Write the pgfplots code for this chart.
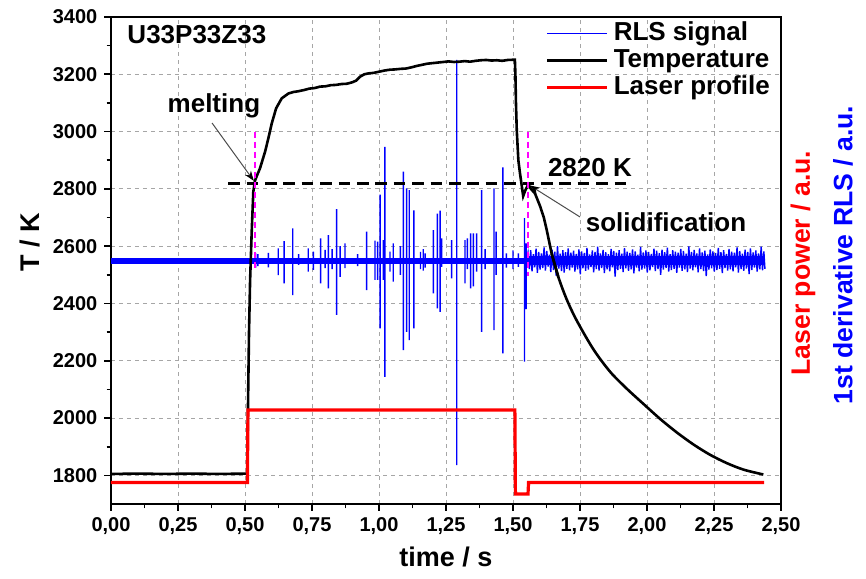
\documentclass[border=0pt]{standalone}
\usepackage{pgfplots}
\pgfplotsset{compat=1.18}
\usepackage{fontspec}
\setmainfont{Liberation Sans}
\usetikzlibrary{arrows.meta}
\definecolor{rlsblue}{RGB}{0,0,255}
\definecolor{lasred}{RGB}{255,0,0}
\definecolor{mag}{RGB}{255,0,255}
\begin{document}
\begin{tikzpicture}
\begin{axis}[
  name=ax, at={(0,0)}, anchor=south west,
  scale only axis, width=335pt, height=243.5pt,
  xmin=0, xmax=2.5, ymin=1700, ymax=3400,
  xtick={0,0.25,0.5,0.75,1,1.25,1.5,1.75,2,2.25,2.5},
  ytick={1800,2000,2200,2400,2600,2800,3000,3200,3400},
  minor x tick num=1, minor y tick num=1,
  tick align=outside, xtick pos=bottom, ytick pos=left,
  major tick length=3.3pt, minor tick length=2.2pt,
  every tick/.style={black, line width=0.8pt},
  axis line style={line width=1pt},
  grid=major,
  major grid style={black!35, dash pattern=on 2pt off 2pt, line width=0.4pt},
  /pgf/number format/assume math mode=true,
  x tick label style={/pgf/number format/.cd, fixed, fixed zerofill, precision=2, use comma},
  y tick label style={/pgf/number format/.cd, fixed, 1000 sep={}},
  tick label style={font=\bfseries\fontsize{10}{12}\selectfont},
  xlabel={time / s}, ylabel={T / K},
  label style={font=\bfseries\fontsize{13.5}{16}\selectfont},
  xlabel style={at={(axis description cs:0.5,-0.109)}, anchor=center},
  ylabel style={at={(axis description cs:-0.121,0.538)}, anchor=center, rotate=0},
  legend style={draw=none, fill=none, at={(rel axis cs:0.648,0.995)}, anchor=north west,
    font=\bfseries\fontsize{13}{14}\selectfont, inner sep=0pt, row sep=0pt, column sep=2pt,
    nodes={inner sep=0.5pt, text height=9.6pt, text depth=3pt}},
  legend cell align=left,
  legend image code/.code={\draw[#1] (0pt,0pt) -- (30pt,0pt);},
]
% dense noisy core of the RLS signal (not in legend)
\addplot[rlsblue, line width=2.8pt, forget plot] coordinates {(0,2549) (1.556,2549)};
\addplot[rlsblue, line width=4.6pt, forget plot] coordinates {(1.556,2549) (2.438,2549)};

% RLS signal spikes and noise
\addplot[rlsblue, line width=0.7pt] table {
x y
0.535 2549
0.540 2549
0.540 2575
0.540 2525
0.540 2549
0.548 2549
0.548 2572
0.548 2530
0.548 2549
0.587 2549
0.587 2577
0.587 2526
0.587 2549
0.624 2549
0.624 2592
0.624 2499
0.624 2549
0.646 2549
0.646 2618
0.646 2470
0.646 2549
0.678 2549
0.678 2662
0.678 2429
0.678 2549
0.700 2549
0.700 2572
0.700 2535
0.700 2549
0.736 2549
0.736 2592
0.736 2511
0.736 2549
0.755 2549
0.755 2581
0.755 2517
0.755 2549
0.782 2549
0.782 2627
0.782 2470
0.782 2549
0.799 2549
0.799 2587
0.799 2523
0.799 2549
0.811 2549
0.811 2639
0.811 2453
0.811 2549
0.825 2549
0.825 2590
0.825 2520
0.825 2549
0.842 2549
0.842 2729
0.842 2360
0.842 2549
0.855 2549
0.855 2600
0.855 2493
0.855 2549
0.873 2549
0.873 2610
0.873 2523
0.873 2549
0.920 2549
0.920 2572
0.920 2530
0.920 2549
0.954 2549
0.954 2651
0.954 2447
0.954 2549
0.985 2549
0.985 2619
0.985 2482
0.985 2549
0.995 2549
0.995 2616
0.995 2482
0.995 2549
1.004 2549
1.004 2780
1.004 2313
1.004 2549
1.016 2549
1.016 2621
1.016 2482
1.016 2549
1.022 2549
1.022 2947
1.022 2144
1.022 2549
1.041 2549
1.041 2581
1.041 2511
1.041 2549
1.053 2549
1.053 2610
1.053 2476
1.053 2549
1.080 2549
1.080 2600
1.080 2500
1.080 2549
1.091 2549
1.091 2860
1.091 2237
1.091 2549
1.103 2549
1.103 2802
1.103 2301
1.103 2549
1.113 2549
1.113 2796
1.113 2272
1.113 2549
1.130 2549
1.130 2725
1.130 2313
1.130 2549
1.155 2549
1.155 2580
1.155 2520
1.155 2549
1.165 2549
1.165 2590
1.165 2515
1.165 2549
1.172 2549
1.172 2575
1.172 2525
1.172 2549
1.203 2549
1.203 2656
1.203 2435
1.203 2549
1.218 2549
1.218 2714
1.218 2383
1.218 2549
1.228 2549
1.228 2724
1.228 2371
1.228 2549
1.234 2549
1.234 2627
1.234 2528
1.234 2549
1.271 2549
1.271 2621
1.271 2488
1.271 2549
1.290 2549
1.290 3250
1.290 1836
1.290 2549
1.321 2549
1.321 2621
1.321 2470
1.321 2549
1.330 2549
1.330 2627
1.330 2520
1.330 2549
1.342 2549
1.342 2645
1.342 2453
1.342 2549
1.352 2549
1.352 2645
1.352 2460
1.352 2549
1.364 2549
1.364 2645
1.364 2511
1.364 2549
1.383 2549
1.383 2796
1.383 2301
1.383 2549
1.396 2549
1.396 2590
1.396 2520
1.396 2549
1.429 2549
1.429 2802
1.429 2307
1.429 2549
1.437 2549
1.437 2651
1.437 2500
1.437 2549
1.462 2549
1.462 2875
1.462 2226
1.462 2549
1.475 2549
1.475 2575
1.475 2525
1.475 2549
1.500 2549
1.500 2585
1.500 2520
1.500 2549
1.520 2549
1.520 2575
1.520 2528
1.520 2549
1.543 2549
1.543 2698
1.543 2197
1.543 2549
1.549 2549
1.549 2610
1.549 2380
1.549 2549
1.556 2578
1.561 2520
1.566 2586
1.571 2512
1.576 2572
1.581 2526
1.586 2591
1.591 2507
1.596 2580
1.601 2518
1.606 2575
1.611 2524
1.616 2596
1.621 2515
1.626 2583
1.631 2529
1.636 2570
1.641 2510
1.646 2588
1.651 2517
1.656 2581
1.661 2497
1.666 2600
1.671 2522
1.676 2574
1.681 2513
1.686 2586
1.691 2508
1.696 2579
1.701 2521
1.706 2592
1.711 2516
1.716 2577
1.721 2525
1.726 2584
1.731 2511
1.736 2573
1.741 2519
1.746 2589
1.751 2502
1.756 2582
1.761 2523
1.766 2576
1.771 2514
1.776 2594
1.781 2518
1.786 2571
1.791 2527
1.796 2585
1.801 2509
1.806 2580
1.811 2520
1.816 2598
1.821 2515
1.826 2575
1.831 2524
1.836 2587
1.841 2506
1.846 2579
1.851 2519
1.856 2572
1.861 2512
1.866 2590
1.871 2526
1.876 2583
1.881 2494
1.886 2577
1.891 2517
1.896 2586
1.901 2521
1.906 2574
1.911 2510
1.916 2593
1.921 2523
1.926 2581
1.931 2514
1.936 2576
1.941 2519
1.946 2589
1.951 2505
1.956 2582
1.961 2525
1.966 2570
1.971 2512
1.976 2597
1.981 2518
1.986 2578
1.991 2522
1.996 2585
2.001 2508
2.006 2580
2.011 2516
2.016 2573
2.021 2527
2.026 2591
2.031 2513
2.036 2584
2.041 2520
2.046 2576
2.051 2500
2.056 2588
2.061 2518
2.066 2579
2.071 2524
2.076 2595
2.081 2511
2.086 2572
2.091 2517
2.096 2586
2.101 2521
2.106 2581
2.111 2507
2.116 2577
2.121 2525
2.126 2590
2.131 2514
2.136 2583
2.141 2519
2.146 2574
2.151 2510
2.156 2599
2.161 2522
2.166 2580
2.171 2516
2.176 2587
2.181 2526
2.186 2575
2.191 2509
2.196 2592
2.201 2520
2.206 2578
2.211 2513
2.216 2584
2.221 2496
2.226 2571
2.231 2518
2.236 2589
2.241 2523
2.246 2582
2.251 2511
2.256 2576
2.261 2517
2.266 2594
2.271 2521
2.276 2579
2.281 2506
2.286 2586
2.291 2524
2.296 2573
2.301 2515
2.306 2590
2.311 2519
2.316 2581
2.321 2512
2.326 2577
2.331 2526
2.336 2596
2.341 2508
2.346 2583
2.351 2520
2.356 2574
2.361 2514
2.366 2588
2.371 2522
2.376 2580
2.381 2503
2.386 2592
2.391 2517
2.396 2578
2.401 2525
2.406 2585
2.411 2511
2.416 2575
2.421 2519
2.426 2598
2.431 2516
2.436 2582
2.440 2521
};
\addlegendentry{RLS signal}

% Temperature (heating, plateau, solidification)
\addplot[black, line width=1.3pt] table {
x y
0.000 1805
0.100 1806
0.200 1805
0.300 1806
0.400 1805
0.509 1806
0.510 1950
0.512 2100
0.515 2300
0.519 2480
0.525 2650
0.531 2790
0.537 2828
0.544 2845
0.556 2872
0.575 2930
0.587 2976
0.600 3029
0.616 3081
0.637 3116
0.662 3133
0.680 3138
0.700 3141
0.720 3145
0.740 3150
0.760 3152
0.780 3157
0.800 3158
0.820 3162
0.840 3163
0.860 3166
0.880 3167
0.900 3172
0.915 3178
0.930 3192
0.945 3200
0.960 3203
0.980 3205
1.000 3209
1.020 3213
1.040 3216
1.060 3217
1.080 3219
1.100 3220
1.120 3224
1.140 3229
1.160 3233
1.180 3237
1.200 3239
1.220 3241
1.240 3243
1.260 3245
1.280 3243
1.300 3244
1.320 3246
1.340 3244
1.360 3247
1.380 3249
1.400 3250
1.420 3248
1.440 3249
1.460 3247
1.480 3250
1.507 3251
1.509 3200
1.511 3100
1.514 3005
1.520 2900
1.526 2855
1.532 2815
1.538 2775
1.546 2795
1.557 2815
1.567 2800
1.582 2784
1.601 2740
1.615 2700
1.626 2656
1.644 2575
1.669 2493
};
\addlegendentry{Temperature}

% Laser profile
\addplot[lasred, line width=1.6pt] coordinates {
(0,1775) (0.509,1775) (0.511,2028) (1.507,2028) (1.509,1735) (1.556,1735) (1.558,1775) (2.437,1775)
};
\addlegendentry{Laser profile}

% Temperature, cooling part
\addplot[black, line width=1.3pt, smooth, forget plot] table {
x y
1.644 2575
1.669 2493
1.700 2415
1.738 2340
1.800 2240
1.862 2162
1.924 2103
1.986 2050
2.049 1997
2.111 1950
2.173 1908
2.235 1872
2.297 1843
2.360 1820
2.434 1803
};

% 2820 K dashed line
\addplot[black, line width=1.4pt, dash pattern=on 5.8pt off 3.4pt, forget plot] coordinates {(0.437,2820) (1.943,2820)};
% magenta markers
\addplot[mag, line width=1pt, dash pattern=on 3pt off 2pt, forget plot] coordinates {(0.537,3000) (0.537,2520)};
\addplot[mag, line width=1pt, dash pattern=on 3pt off 2pt, forget plot] coordinates {(1.555,3000) (1.555,2495)};

% annotations
\draw[black!70, line width=0.5pt, -{Stealth[length=5pt,width=3.6pt,black]}] (axis cs:0.377,3030) -- (axis cs:0.533,2828);
\draw[black!70, line width=0.5pt, -{Stealth[length=5pt,width=3.6pt,black]}] (axis cs:1.750,2702) -- (axis cs:1.563,2812);
\node[font=\bfseries\fontsize{13}{14}\selectfont] at (axis cs:0.384,3089) {melting};
\node[font=\bfseries\fontsize{13}{14}\selectfont] at (axis cs:2.071,2684) {solidification};
\node[font=\bfseries\fontsize{13}{14}\selectfont] at (axis cs:1.787,2873) {2820 K};
\node[font=\bfseries\fontsize{13}{14}\selectfont, anchor=west, inner sep=0pt] at (axis cs:0.06,3340) {U33P33Z33};
\end{axis}
\node[rotate=90, text=lasred, font=\bfseries\fontsize{13.3}{16}\selectfont] at (346pt,120.5pt) {Laser power / a.u.};
\node[rotate=90, text=rlsblue, font=\bfseries\fontsize{13.3}{16}\selectfont] at (366pt,124.5pt) {1st derivative RLS / a.u.};
\pgfresetboundingbox
\path (-55.5pt,-37pt) rectangle (377.5pt,252pt);
\end{tikzpicture}
\end{document}
